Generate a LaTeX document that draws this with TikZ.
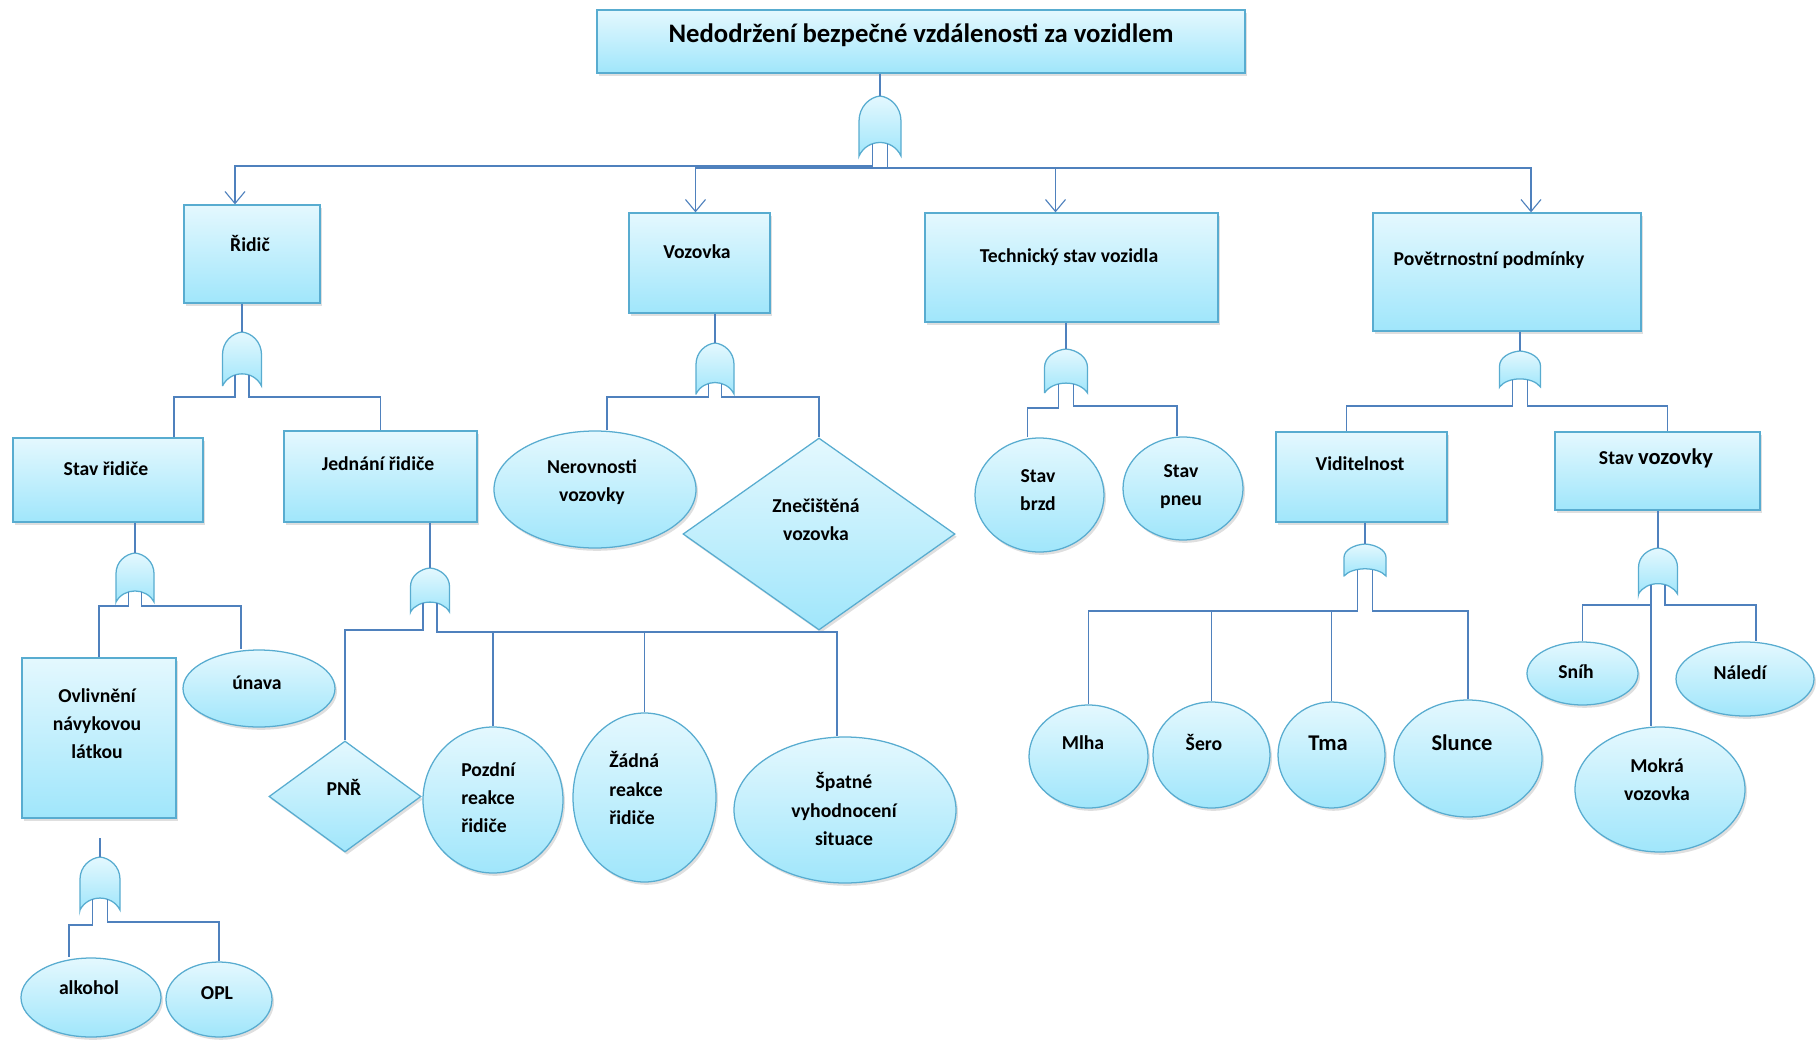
\documentclass[tikz,border=0pt]{standalone}
\usepackage{fontspec}
\setmainfont{Carlito}
\usetikzlibrary{positioning,calc,arrows.meta,shadows,shapes.geometric}

\definecolor{linkblue}{RGB}{79,129,189}
\definecolor{edgeblue}{RGB}{88,172,208}
\definecolor{filltop}{RGB}{228,248,254}
\definecolor{fillbot}{RGB}{160,230,251}

\tikzset{
  >={Straight Barb[length=3mm,width=5mm]},
  conn/.style={draw=linkblue, line width=0.8pt},
  event/.style={draw=edgeblue, line width=0.9pt, top color=filltop, bottom color=fillbot, inner sep=0pt,
    drop shadow={opacity=0.25, shadow xshift=0.5mm, shadow yshift=-0.7mm}},
  box/.style 2 args={event, rectangle, minimum width=#1*0.25mm, minimum height=#2*0.25mm},
  oval/.style 2 args={event, ellipse, minimum width=#1*0.25mm, minimum height=#2*0.25mm},
  rhomb/.style 2 args={event, diamond, minimum width=#1*0.25mm, minimum height=#2*0.25mm},
  txt/.style={font=\bfseries\fontsize{14}{20}\selectfont, inner sep=0pt, align=center},
  gatestyle/.style={draw=edgeblue, line width=0.9pt, top color=filltop, bottom color=fillbot},
  orgate/.pic={
    \path[gatestyle] (-0.5,1) -- (-0.5,0.42)
      .. controls (-0.5,0.18) and (-0.25,0.02) .. (0,0)
      .. controls (0.25,0.02) and (0.5,0.18) .. (0.5,0.42)
      -- (0.5,1) .. controls (0.3,0.7) and (-0.3,0.7) .. cycle;
    \coordinate (-top) at (0,0);
    \coordinate (-l) at (-0.18,0.8);
    \coordinate (-r) at (0.18,0.8);
  }
}

\begin{document}
\begin{tikzpicture}[x=0.25mm, y=-0.25mm]
\useasboundingbox (0,0) rectangle (1816,1041);

% top event
\node[box={648}{63}] (top) at (921,41.5) {};
\node[txt, font=\bfseries\fontsize{19}{23}\selectfont] (topt) at (921,35) {Nedodržení bezpečné vzdálenosti za vozidlem};

% first level
\node[box={136}{98}] (ridic) at (252,254) {};
\node[txt] (ridict) at (250,243) {Řidič};
\node[box={141}{100}] (vozovka) at (699.5,263) {};
\node[txt] (vozovkat) at (697,252) {Vozovka};
\node[box={293}{109}] (tech) at (1071.5,267.5) {};
\node[txt] (techt) at (1069,257) {Technický stav vozidla};
\node[box={268}{118}] (pocasi) at (1507,272) {};
\node[txt] (pocasit) at (1489,260) {Povětrnostní podmínky};

% second level
\node[box={190}{84}] (stavr) at (108,480) {};
\node[txt] (stavrt) at (106,469) {Stav řidiče};
\node[box={193}{91}] (jednani) at (380.5,476.5) {};
\node[txt] (jednanit) at (378,464) {Jednání řidiče};
\node[oval={202}{117}] (nerov) at (595,489.5) {};
\node[txt] (nerovt) at (592,482) {Nerovnosti\\vozovky};
\node[rhomb={272}{192}] (znec) at (819,534) {};
\node[txt] (znect) at (816,520) {Znečištěná\\vozovka};
\node[oval={129}{114}] (brzd) at (1039.5,495) {};
\node[txt] (brzdt) at (1038,490) {Stav\\brzd};
\node[oval={120}{103}] (pneu) at (1183,488.5) {};
\node[txt] (pneut) at (1181,487) {Stav\\pneu};
\node[box={171}{90}] (vidit) at (1361.5,477) {};
\node[txt] (viditt) at (1360,464) {Viditelnost};
\node[box={205}{78}] (stavv) at (1657.5,471) {};
\node[txt] (stavvt) at (1656,458) {Stav {\fontsize{16}{20}\selectfont vozovky}};

% third level
\node[box={154}{160}] (ovliv) at (99,738) {};
\node[txt] (ovlivt) at (97,724) {Ovlivnění\\návykovou\\látkou};
\node[oval={152}{77}] (unava) at (259,688.5) {};
\node[txt] (unavat) at (257,683) {únava};
\node[rhomb={152}{111}] (pnr) at (345,796.5) {};
\node[txt] (pnrt) at (344,787) {PNŘ};
\node[oval={140}{146}] (pozdni) at (493,800) {};
\node[txt, align=left, anchor=west] (pozdnit) at (461,798) {Pozdní\\reakce\\řidiče};
\node[oval={143}{169}] (zadna) at (644.5,797.5) {};
\node[txt, align=left, anchor=west] (zadnat) at (609,788) {Žádná\\reakce\\řidiče};
\node[oval={222}{146}] (spatne) at (845,810) {};
\node[txt] (spatnet) at (844,809) {Špatné\\vyhodnocení\\situace};
\node[oval={119}{103}] (mlha) at (1088.5,756.5) {};
\node[txt] (mlhat) at (1083,743) {Mlha};
\node[oval={117}{106}] (sero) at (1211.5,755) {};
\node[txt] (serot) at (1204,742) {Šero};
\node[oval={107}{106}] (tma) at (1331.5,755) {};
\node[txt, font=\bfseries\fontsize{16}{20}\selectfont] (tmat) at (1328,743) {Tma};
\node[oval={148}{117}] (slunce) at (1468,758.5) {};
\node[txt, font=\bfseries\fontsize{16}{20}\selectfont] (sluncet) at (1462,743) {Slunce};
\node[oval={111}{63}] (snih) at (1582.5,673.5) {};
\node[txt] (sniht) at (1576,672) {Sníh};
\node[oval={138}{74}] (naledi) at (1745,679) {};
\node[txt] (naledit) at (1740,673) {Náledí};
\node[oval={170}{125}] (mokra) at (1660,789.5) {};
\node[txt] (mokrat) at (1657,780) {Mokrá\\vozovka};
\node[oval={140}{79}] (alkohol) at (91,997.5) {};
\node[txt] (alkoholt) at (89,988) {alkohol};
\node[oval={106}{75}] (opl) at (219,999.5) {};
\node[txt] (oplt) at (217,993) {OPL};

% OR gates
\pic[xscale=42, yscale=60] (g0) at (880,96) {orgate};
\pic[xscale=39, yscale=54] (g1) at (242,332) {orgate};
\pic[xscale=38, yscale=51] (g2) at (715,343) {orgate};
\pic[xscale=43, yscale=44] (g3) at (1066,349) {orgate};
\pic[xscale=41, yscale=36] (g4) at (1520,351) {orgate};
\pic[xscale=38, yscale=49] (g5) at (135,553) {orgate};
\pic[xscale=39, yscale=44] (g6) at (430,568) {orgate};
\pic[xscale=40, yscale=53] (g7) at (100,857) {orgate};
\pic[xscale=42, yscale=32] (g8) at (1365,544) {orgate};
\pic[xscale=39, yscale=46] (g9) at (1658,548) {orgate};

% top event
\draw[conn] (top.south -| g0-top) -- (g0-top);
\draw[conn,->] (g0-l) -- (g0-l |- 0,166) -| ($(ridic.north)+(-17,0)$);
\draw[conn,->] (g0-r) -- (g0-r |- 0,168) -| ($(vozovka.north)+(-4,0)$);
\draw[conn,->] (g0-r) -- (g0-r |- 0,168) -| ($(tech.north)+(-16,0)$);
\draw[conn,->] (g0-r) -- (g0-r |- 0,168) -| ($(pocasi.north)+(24,0)$);

% Ridic
\draw[conn] (ridic.south -| g1-top) -- (g1-top);
\draw[conn] (g1-l) -- (g1-l |- 0,397) -| ($(stavr.north)+(66,0)$);
\draw[conn] (g1-r) -- (g1-r |- 0,397) -| (jednani.north);

% Vozovka
\draw[conn] (vozovka.south -| g2-top) -- (g2-top);
\draw[conn] (g2-l) -- (g2-l |- 0,397) -| ($(nerov.north)+(12,0)$);
\draw[conn] (g2-r) -- (g2-r |- 0,397) -| (znec.north);

% Technicky stav
\draw[conn] (tech.south -| g3-top) -- (g3-top);
\draw[conn] (g3-l) -- (g3-l |- 0,408) -| ($(brzd.north)+(-12,0)$);
\draw[conn] (g3-r) -- (g3-r |- 0,406) -| ($(pneu.north)+(-6,0)$);

% Povetrnostni podminky
\draw[conn] (pocasi.south -| g4-top) -- (g4-top);
\draw[conn] (g4-l) -- (g4-l |- 0,406) -| ($(vidit.north)+(-15,0)$);
\draw[conn] (g4-r) -- (g4-r |- 0,406) -| ($(stavv.north)+(10,0)$);

% Stav ridice
\draw[conn] (stavr.south -| g5-top) -- (g5-top);
\draw[conn] (g5-l) -- (g5-l |- 0,606) -| (ovliv.north);
\draw[conn] (g5-r) -- (g5-r |- 0,606) -| ($(unava.north)+(-18,0)$);

% Jednani ridice
\draw[conn] (jednani.south -| g6-top) -- (g6-top);
\draw[conn] (g6-l) -- (g6-l |- 0,630) -| (pnr.north);
\draw[conn] (g6-r) -- (g6-r |- 0,632) -| (pozdni.north);
\draw[conn] (g6-r) -- (g6-r |- 0,632) -| (zadna.north);
\draw[conn] (g6-r) -- (g6-r |- 0,632) -| ($(spatne.north)+(-8,0)$);

% Ovlivneni
\draw[conn] (g7-top) -- ++(0,-19);
\draw[conn] (g7-l) -- (g7-l |- 0,925) -| ($(alkohol.north)+(-22,0)$);
\draw[conn] (g7-r) -- (g7-r |- 0,922) -| (opl.north);

% Viditelnost
\draw[conn] (vidit.south -| g8-top) -- (g8-top);
\draw[conn] (g8-l) -- (g8-l |- 0,611) -| (mlha.north);
\draw[conn] (g8-l) -- (g8-l |- 0,611) -| (sero.north);
\draw[conn] (g8-l) -- (g8-l |- 0,611) -| (tma.north);
\draw[conn] (g8-r) -- (g8-r |- 0,611) -| (slunce.north);

% Stav vozovky
\draw[conn] (stavv.south -| g9-top) -- (g9-top);
\draw[conn] (g9-l) -- (g9-l |- 0,605) -| (snih.north);
\draw[conn] (g9-l) -- (g9-l |- mokra.north);
\draw[conn] (g9-r) -- (g9-r |- 0,605) -| ($(naledi.north)+(11,0)$);
\end{tikzpicture}
\end{document}
